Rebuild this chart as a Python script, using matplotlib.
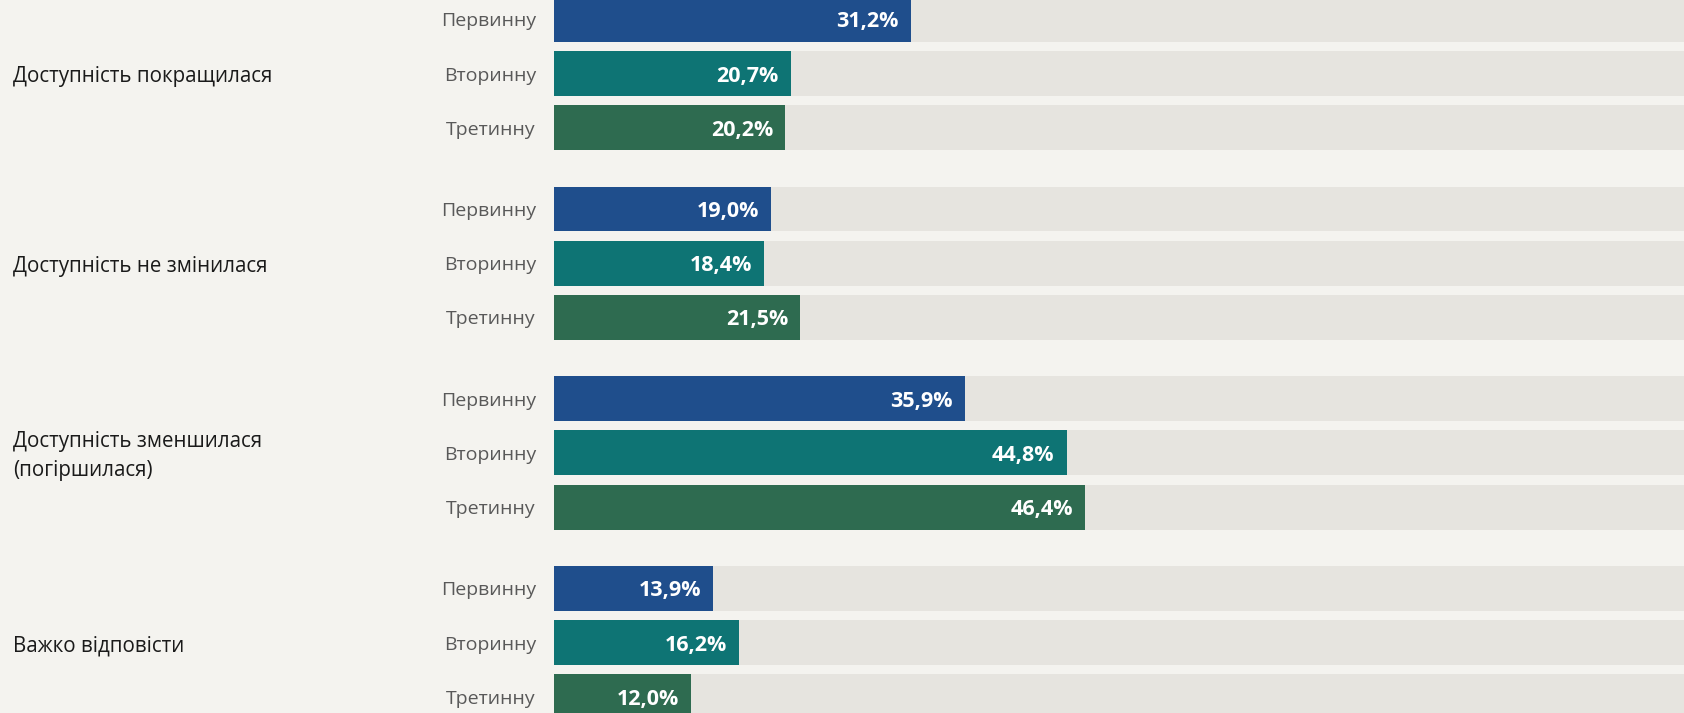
import matplotlib.pyplot as plt

# data
categories = ["Доступність покращилася", "Доступність не змінилася",
              "Доступність зменшилася\n(погіршилася)", "Важко відповісти"]
levels = ["Первинну", "Вторинну", "Третинну"]
values = [
    [31.2, 20.7, 20.2],
    [19.0, 18.4, 21.5],
    [35.9, 44.8, 46.4],
    [13.9, 16.2, 12.0],
]
colors = ["#1F4E8C", "#0E7474", "#2E6B50"]

BG = "#F4F3EF"
TRACK = "#E6E4DF"
plt.rcParams['font.family'] = ['Open Sans', 'DejaVu Sans']

W, H = 1684, 713
fig = plt.figure(figsize=(W / 100, H / 100), dpi=100, facecolor=BG)
x0 = 554 / W
ax = fig.add_axes([x0, 0, 1 - x0, 1])
ax.set_facecolor(BG)

group_step = 3.5
bar_h = 0.83
for g, cat in enumerate(categories):
    for j, lev in enumerate(levels):
        y = g * group_step + j
        v = values[g][j]
        ax.barh(y, 100, height=bar_h, color=TRACK, zorder=1)
        ax.barh(y, v, height=bar_h, color=colors[j], zorder=2)
        ax.annotate(f"{v:.1f}%".replace(".", ","), (v, y), xytext=(-12, 0),
                    textcoords="offset pixels", ha="right", va="center_baseline",
                    color="white", fontsize=15.5, fontweight="bold", zorder=3)
        ax.annotate(lev, (0, y), xytext=(-18, 0), textcoords="offset pixels",
                    ha="right", va="center_baseline", color="#595959", fontsize=14,
                    annotation_clip=False)
    # category label, centred on the middle bar of the group
    ax.annotate(cat, (0, g * group_step + 1), xycoords="data",
                xytext=(13 - 554, -3), textcoords="offset pixels",
                ha="left", va="center", color="#1A1A1A", fontsize=14.8,
                annotation_clip=False, linespacing=1.45)

px_per_unit = 54.2
top = -19.3 / px_per_unit
ax.set_ylim(top + H / px_per_unit, top)
ax.set_xlim(0, (W - 554) / 11.44)
ax.axis("off")

fig.savefig("out.png", dpi=100, facecolor=BG)
